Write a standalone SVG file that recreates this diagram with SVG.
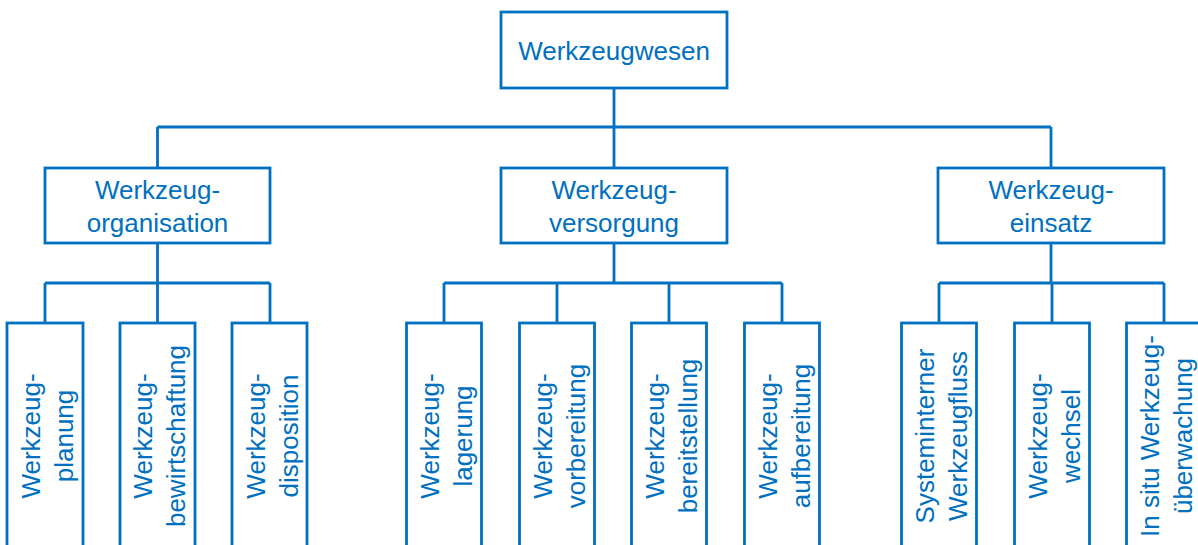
<svg xmlns="http://www.w3.org/2000/svg" width="1198" height="545" viewBox="0 0 1198 545">
  <style>
    .box { fill: #ffffff; stroke: #0070C0; stroke-width: 2.8; }
    .wire { fill: none; stroke: #0070C0; stroke-width: 2.8; }
    .label { font-family: "Liberation Sans", Arial, sans-serif; font-size: 26px; fill: #0070C0; text-anchor: middle; }
  </style>
  <rect width="1198" height="545" fill="#ffffff"/>

  <!-- connectors -->
  <g id="connectors" class="wire">
    <path d="M614 88 V127 M157.5 127 H1051 M157.5 127 V168 M614 127 V168 M1051 127 V168"/>
    <path d="M157.5 243 V283 M45 283 H270 M45 283 V323 M157.5 283 V323 M270 283 V323"/>
    <path d="M614 243 V283 M444 283 H782 M444 283 V323 M557 283 V323 M669 283 V323 M782 283 V323"/>
    <path d="M1051 243 V283 M939 283 H1164 M939 283 V323 M1052 283 V323 M1164 283 V323"/>
  </g>

  <!-- root -->
  <g id="werkzeugwesen">
    <rect class="box" x="501" y="12" width="226" height="76"/>
    <text class="label" x="614" y="60">Werkzeugwesen</text>
  </g>

  <!-- second level -->
  <g id="werkzeugorganisation">
    <rect class="box" x="45" y="168" width="225" height="75"/>
    <text class="label" x="157.5" y="199">Werkzeug-</text>
    <text class="label" x="157.5" y="232">organisation</text>
  </g>
  <g id="werkzeugversorgung">
    <rect class="box" x="501" y="168" width="226" height="75"/>
    <text class="label" x="614" y="199">Werkzeug-</text>
    <text class="label" x="614" y="232">versorgung</text>
  </g>
  <g id="werkzeugeinsatz">
    <rect class="box" x="938" y="168" width="226" height="75"/>
    <text class="label" x="1051" y="199">Werkzeug-</text>
    <text class="label" x="1051" y="232">einsatz</text>
  </g>

  <!-- leaves: vertical boxes, text rotated about the box centre (cx, 436) -->
  <g id="werkzeugplanung">
    <rect class="box" x="7" y="323" width="76" height="228"/>
    <g transform="rotate(-90 45 436)">
      <text class="label" x="45" y="430.5">Werkzeug-</text>
      <text class="label" x="45" y="463.5">planung</text>
    </g>
  </g>
  <g id="werkzeugbewirtschaftung">
    <rect class="box" x="120" y="323" width="75" height="228"/>
    <g transform="rotate(-90 157.5 436)">
      <text class="label" x="157.5" y="430.5">Werkzeug-</text>
      <text class="label" x="157.5" y="463.5">bewirtschaftung</text>
    </g>
  </g>
  <g id="werkzeugdisposition">
    <rect class="box" x="232" y="323" width="75" height="228"/>
    <g transform="rotate(-90 270 436)">
      <text class="label" x="270" y="430.5">Werkzeug-</text>
      <text class="label" x="270" y="463.5">disposition</text>
    </g>
  </g>

  <g id="werkzeuglagerung">
    <rect class="box" x="406.5" y="323" width="75" height="228"/>
    <g transform="rotate(-90 444 436)">
      <text class="label" x="444" y="430.5">Werkzeug-</text>
      <text class="label" x="444" y="463.5">lagerung</text>
    </g>
  </g>
  <g id="werkzeugvorbereitung">
    <rect class="box" x="519.5" y="323" width="75" height="228"/>
    <g transform="rotate(-90 557 436)">
      <text class="label" x="557" y="430.5">Werkzeug-</text>
      <text class="label" x="557" y="463.5">vorbereitung</text>
    </g>
  </g>
  <g id="werkzeugbereitstellung">
    <rect class="box" x="631.5" y="323" width="75" height="228"/>
    <g transform="rotate(-90 669 436)">
      <text class="label" x="669" y="430.5">Werkzeug-</text>
      <text class="label" x="669" y="463.5">bereitstellung</text>
    </g>
  </g>
  <g id="werkzeugaufbereitung">
    <rect class="box" x="744.5" y="323" width="75" height="228"/>
    <g transform="rotate(-90 782 436)">
      <text class="label" x="782" y="430.5">Werkzeug-</text>
      <text class="label" x="782" y="463.5">aufbereitung</text>
    </g>
  </g>

  <g id="werkzeugfluss">
    <rect class="box" x="901.5" y="323" width="75" height="228"/>
    <g transform="rotate(-90 939 436)">
      <text class="label" x="939" y="430.5">Systeminterner</text>
      <text class="label" x="939" y="463.5">Werkzeugfluss</text>
    </g>
  </g>
  <g id="werkzeugwechsel">
    <rect class="box" x="1014.5" y="323" width="75" height="228"/>
    <g transform="rotate(-90 1052 436)">
      <text class="label" x="1052" y="430.5">Werkzeug-</text>
      <text class="label" x="1052" y="463.5">wechsel</text>
    </g>
  </g>
  <g id="werkzeugueberwachung">
    <rect class="box" x="1126.5" y="323" width="75" height="228"/>
    <g transform="rotate(-90 1164 436)">
      <text class="label" x="1164" y="430.5">In situ Werkzeug-</text>
      <text class="label" x="1164" y="463.5">überwachung</text>
    </g>
  </g>
</svg>
